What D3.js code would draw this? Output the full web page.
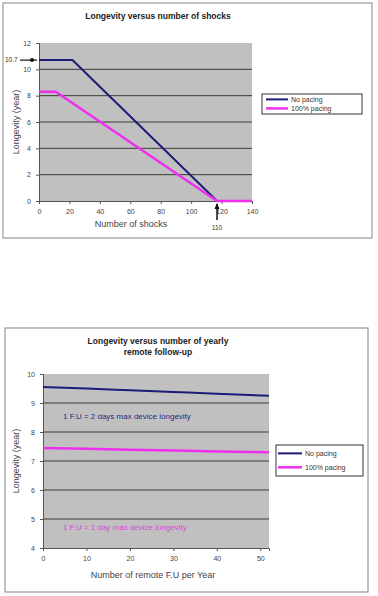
<!DOCTYPE html>
<html>
<head>
<meta charset="utf-8">
<style>
  body { margin: 0; background: #fff; }
  svg { display: block; font-family: Arial, "Liberation Sans", sans-serif; }
  .tick text { font-size: 7px; fill: #444; }
  .title { font-size: 8.5px; font-weight: bold; fill: #222; }
  .lab { font-size: 9px; fill: #444; }
</style>
</head>
<body>
<script src="https://d3js.org/d3.v7.min.js"></script>
<script>
// chart 1: longevity vs number of shocks
var shocksNoPacing = [[0, 10.7], [22, 10.7], [117, 0], [140, 0]];
var shocksPacing = [[0, 8.3], [11, 8.3], [117, 0], [140, 0]];
var shocksXTicks = [0, 20, 40, 60, 80, 100, 120, 140];
var shocksYTicks = [0, 2, 4, 6, 8, 10, 12];

// chart 2: longevity vs yearly remote follow-ups
var fuNoPacing = [[0, 9.55], [10, 9.5], [20, 9.44], [30, 9.38], [40, 9.32], [52, 9.25]];
var fuPacing = [[0, 7.45], [10, 7.42], [20, 7.39], [30, 7.36], [40, 7.33], [52, 7.3]];
var fuXTicks = [0, 10, 20, 30, 40, 50];
var fuYTicks = [4, 5, 6, 7, 8, 9, 10];

var seriesNames = ["No pacing", "100% pacing"];
var navy = "#1c1c78", pink = "#ee30ee";

var svg = d3.select("body").append("svg")
    .attr("width", 378).attr("height", 596);

function drawChart(o) {
    svg.append("rect")
        .attr("x", o.frame[0]).attr("y", o.frame[1])
        .attr("width", o.frame[2]).attr("height", o.frame[3])
        .attr("fill", "#fff").attr("stroke", "#999").attr("stroke-width", 1.2);

    var x = d3.scaleLinear().domain(o.xDomain).range([o.left, o.right]);
    var y = d3.scaleLinear().domain(o.yDomain).range([o.bottom, o.top]);

    svg.append("rect")
        .attr("x", o.left).attr("y", o.top)
        .attr("width", o.right - o.left).attr("height", o.bottom - o.top)
        .attr("fill", "#c0c0c0");

    // grid lines
    svg.append("g").selectAll("line")
        .data(o.yTicks.slice(1, -1))
        .join("line")
        .attr("x1", o.left).attr("x2", o.right)
        .attr("y1", d => y(d)).attr("y2", d => y(d))
        .attr("stroke", "#3a3a3a").attr("stroke-width", 1);

    var xAxis = svg.append("g")
        .attr("transform", "translate(0," + o.bottom + ")")
        .call(d3.axisBottom(x).tickValues(o.xTicks).tickFormat(d3.format("d")).tickSize(3).tickPadding(5));
    var yAxis = svg.append("g")
        .attr("transform", "translate(" + o.left + ",0)")
        .call(d3.axisLeft(y).tickValues(o.yTicks).tickFormat(d3.format("d")).tickSize(3).tickPadding(5));
    [xAxis, yAxis].forEach(function(a) {
        a.selectAll("path, line").attr("stroke", "#555");
    });

    var line = d3.line().x(d => x(d[0])).y(d => y(d[1]));
    if (o.curve) line.curve(d3.curveMonotoneX);
    svg.append("path").datum(o.s1).attr("d", line)
        .attr("fill", "none").attr("stroke", navy).attr("stroke-width", 2);
    svg.append("path").datum(o.s2).attr("d", line)
        .attr("fill", "none").attr("stroke", pink).attr("stroke-width", 2.5);

    // titles
    o.title.forEach(function(t, i) {
        svg.append("text").attr("class", "title")
            .attr("x", o.titleX).attr("y", o.titleY + i * 11)
            .attr("text-anchor", "middle").text(t);
    });
    svg.append("text").attr("class", "lab")
        .attr("x", o.xTitle[0]).attr("y", o.xTitle[1])
        .attr("text-anchor", "middle").text(o.xLabel);
    svg.append("text").attr("class", "lab")
        .attr("transform", "translate(" + o.yTitleX + "," + ((o.top + o.bottom) / 2) + ") rotate(-90)")
        .attr("text-anchor", "middle").text("Longevity (year)");

    // legend
    var lg = o.legend;
    svg.append("rect")
        .attr("x", lg[0]).attr("y", lg[1]).attr("width", lg[2]).attr("height", lg[3])
        .attr("fill", "#fff").attr("stroke", "#333").attr("stroke-width", 1);
    seriesNames.forEach(function(n, i) {
        var yy = lg[1] + lg[3] * (i === 0 ? 0.27 : 0.72);
        svg.append("line")
            .attr("x1", lg[0] + o.legLine[0]).attr("x2", lg[0] + o.legLine[1])
            .attr("y1", yy).attr("y2", yy)
            .attr("stroke", i === 0 ? navy : pink).attr("stroke-width", i === 0 ? 2 : 2.5);
        svg.append("text").attr("x", lg[0] + o.legLine[1] + 3).attr("y", yy + 2.5)
            .attr("font-size", 7).attr("fill", "#333").text(n);
    });
    return {x: x, y: y};
}

var c1 = drawChart({
    frame: [3, 3, 369, 235],
    left: 39, right: 252, top: 43, bottom: 201,
    xDomain: [0, 140], yDomain: [0, 12],
    xTicks: shocksXTicks, yTicks: shocksYTicks,
    s1: shocksNoPacing, s2: shocksPacing,
    title: ["Longevity versus number of shocks"], titleX: 158, titleY: 19,
    xLabel: "Number of shocks", xTitle: [131, 227], yTitleX: 19,
    legend: [262, 94, 100, 20], legLine: [4, 26]
});

// annotations on chart 1
svg.append("text").attr("x", 5).attr("y", 62).attr("font-size", 6.5).attr("fill", "#333").text("10.7");
svg.append("line").attr("x1", 20).attr("x2", c1.x(0) - 2)
    .attr("y1", c1.y(10.7)).attr("y2", c1.y(10.7)).attr("stroke", "#111").attr("stroke-width", 1.2);
svg.append("circle").attr("cx", 32).attr("cy", c1.y(10.7)).attr("r", 2).attr("fill", "#111");
var ax = c1.x(117);
svg.append("line").attr("x1", ax).attr("x2", ax).attr("y1", 220).attr("y2", c1.y(0) + 3)
    .attr("stroke", "#111").attr("stroke-width", 1.5);
svg.append("path").attr("d", "M" + (ax - 2.5) + "," + (c1.y(0) + 8) + "L" + ax + "," + (c1.y(0) + 2) + "L" + (ax + 2.5) + "," + (c1.y(0) + 8) + "Z")
    .attr("fill", "#111");
svg.append("text").attr("x", ax).attr("y", 230).attr("text-anchor", "middle")
    .attr("font-size", 6.5).attr("fill", "#333").text("110");

var c2 = drawChart({
    frame: [5, 328, 363, 264],
    left: 43, right: 269, top: 374, bottom: 548,
    xDomain: [0, 52], yDomain: [4, 10],
    xTicks: fuXTicks, yTicks: fuYTicks, curve: true,
    s1: fuNoPacing, s2: fuPacing,
    title: ["Longevity versus number of yearly", "remote follow-up"], titleX: 158, titleY: 344,
    xLabel: "Number of remote F.U per Year", xTitle: [153, 578], yTitleX: 19,
    legend: [276, 445, 87, 31], legLine: [2, 26]
});

svg.append("text").attr("x", 63).attr("y", 419).attr("font-size", 8).attr("fill", "#2a2a80")
    .text("1 F.U = 2 days max device longevity");
svg.append("text").attr("x", 63).attr("y", 530).attr("font-size", 8).attr("fill", "#e040e0")
    .text("1 F.U = 1 day max device longevity");
</script>
</body>
</html>
